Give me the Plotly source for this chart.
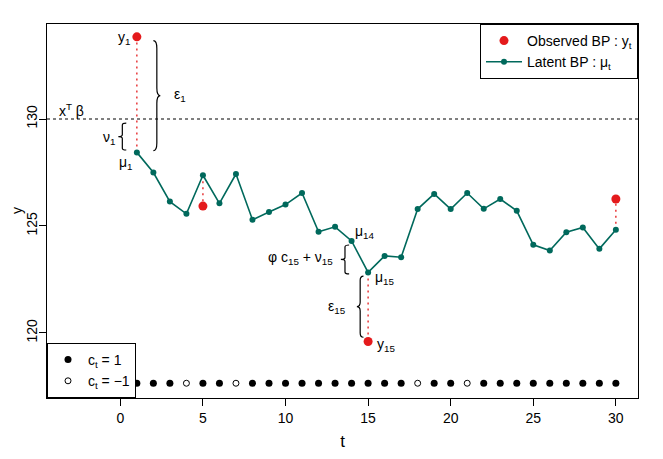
import plotly.graph_objects as go

# latent BP (mu_t), t = 1..30
t_vals = list(range(1, 31))
mu_vals = [128.44, 127.50, 126.14, 125.57, 127.37, 126.06, 127.43, 125.29, 125.65, 126.00,
           126.54, 124.73, 124.96, 124.30, 122.83, 123.60, 123.54, 125.79, 126.50, 125.79,
           126.54, 125.80, 126.26, 125.71, 124.12, 123.85, 124.71, 124.93, 123.93, 124.82]

# observed BP (y_t) shown only at a few times
obs_t = [1, 5, 15, 30]
obs_y = [133.84, 125.93, 119.60, 126.26]

# regime indicator c_t
c_vals = [1, 1, 1, -1, 1, 1, -1, 1, 1, 1, 1, 1, 1, 1, 1,
          1, 1, -1, 1, 1, -1, 1, 1, 1, 1, 1, 1, 1, 1, 1]

x_beta = 130.0
c_row_y = 117.65

TEAL = "#00695C"
RED = "#E41A1C"
FONT = "Liberation Sans"


def brace_path(x_back, x_tip, y_a, y_b):
    xm = (x_back + x_tip) / 2
    ym = (y_a + y_b) / 2
    e = (y_b - y_a) * 0.07
    return (f"M {x_back},{y_a} Q {xm},{y_a} {xm},{y_a + e} L {xm},{ym - e} "
            f"Q {xm},{ym} {x_tip},{ym} Q {xm},{ym} {xm},{ym + e} "
            f"L {xm},{y_b - e} Q {xm},{y_b} {x_back},{y_b}")


fig = go.Figure()

# dotted red links between mu_t and y_t
link_x, link_y = [], []
for t, y in zip(obs_t, obs_y):
    link_x += [t, t, None]
    link_y += [mu_vals[t - 1], y, None]
fig.add_trace(go.Scatter(x=link_x, y=link_y, mode="lines", showlegend=False,
                         line=dict(color=RED, width=1.3, dash="2px,4px"), hoverinfo="skip"))

fig.add_trace(go.Scatter(x=t_vals, y=mu_vals, mode="lines+markers", name="Latent BP : μ<sub>t</sub>",
                         line=dict(color=TEAL, width=1.6), marker=dict(color=TEAL, size=6)))
fig.add_trace(go.Scatter(x=obs_t, y=obs_y, mode="markers", name="Observed BP : y<sub>t</sub>",
                         marker=dict(color=RED, size=9)))

pos_t = [t for t, c in zip(t_vals, c_vals) if c == 1]
neg_t = [t for t, c in zip(t_vals, c_vals) if c == -1]
fig.add_trace(go.Scatter(x=pos_t, y=[c_row_y] * len(pos_t), mode="markers", name="c<sub>t</sub> = 1",
                         marker=dict(color="black", size=7), legend="legend2"))
fig.add_trace(go.Scatter(x=neg_t, y=[c_row_y] * len(neg_t), mode="markers", name="c<sub>t</sub> = −1",
                         marker=dict(color="white", size=6, line=dict(color="black", width=1)),
                         legend="legend2"))

# x'beta reference line
fig.add_shape(type="line", xref="paper", x0=0, x1=1, yref="y", y0=x_beta, y1=x_beta,
              line=dict(color="black", width=1, dash="3px,3px"))

# braces
for xb, xt, ya, yb in [(2.0, 2.42, 133.66, 128.52), (0.36, -0.12, 129.81, 128.55),
                       (13.85, 13.35, 124.11, 122.76), (14.72, 14.32, 122.66, 119.80)]:
    fig.add_shape(type="path", xref="x", yref="y", path=brace_path(xb, xt, ya, yb),
                  line=dict(color="black", width=1.2))

labels = [
    (0.7, 133.79, "y<sub>1</sub>", "right"),
    (0.9, 127.94, "μ<sub>1</sub>", "right"),
    (-2.93, 130.42, "x<sup>T</sup> β", "center"),
    (-0.18, 129.11, "ν<sub>1</sub>", "right"),
    (3.15, 131.12, "ε<sub>1</sub>", "left"),
    (14.1, 124.72, "μ<sub>14</sub>", "left"),
    (13.0, 123.50, "φ c<sub>15</sub> + ν<sub>15</sub>", "right"),
    (15.3, 122.57, "μ<sub>15</sub>", "left"),
    (13.8, 121.21, "ε<sub>15</sub>", "right"),
    (15.43, 119.44, "y<sub>15</sub>", "left"),
]
for x, y, txt, anchor in labels:
    fig.add_annotation(x=x, y=y, text=txt, xanchor=anchor, yanchor="middle", showarrow=False,
                       font=dict(family=FONT, size=14, color="black"))

# y axis title placed by hand, left of the rotated tick labels
fig.add_annotation(xref="paper", yref="paper", x=0, y=0.5, xanchor="center", yanchor="middle",
                   xshift=-30, text="y", textangle=-90, showarrow=False,
                   font=dict(family=FONT, size=14, color="black"))

# the page body adds an 8px offset, so the figure is sized to fit inside the window
fig.update_layout(
    width=655, height=451,
    margin=dict(l=39, r=25, t=16, b=61),
    plot_bgcolor="white", paper_bgcolor="white",
    font=dict(family=FONT, size=14, color="black"),
    legend=dict(x=1, y=1, xanchor="right", yanchor="top", bordercolor="black", borderwidth=1,
                bgcolor="white", traceorder="reversed", font=dict(size=14), itemwidth=36),
    legend2=dict(x=0, y=0, xanchor="left", yanchor="bottom", bordercolor="black", borderwidth=1,
                 bgcolor="white", font=dict(size=14), itemwidth=30),
    xaxis=dict(range=[-4.44, 31.34], tickvals=[0, 5, 10, 15, 20, 25, 30], showgrid=False, zeroline=False,
               showline=True, mirror=True, linecolor="black", linewidth=1, ticks="outside", ticklen=7,
               tickcolor="black", automargin=False, title=dict(text="t", standoff=10)),
    yaxis=dict(range=[116.96, 134.44], tickvals=[120, 125, 130], tickangle=-90, showgrid=False,
               zeroline=False, showline=True, mirror=True, linecolor="black", linewidth=1,
               ticks="outside", ticklen=7, tickcolor="black", automargin=False,
               ticklabelstandoff=-4),
)

fig.write_html("out.html")
